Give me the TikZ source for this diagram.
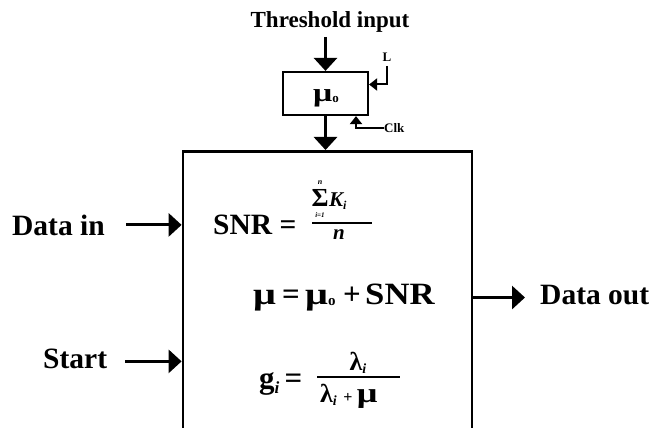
\documentclass[tikz,border=0pt]{standalone}
\usepackage{fontspec}
\usepackage{graphicx}
\setmainfont{Liberation Serif}
\usetikzlibrary{arrows.meta}
\newcommand{\fs}[1]{\fontsize{#1}{#1}\selectfont}
\newcommand{\wmu}{\scalebox{1.3}[1]{μ}}
\begin{document}
\begin{tikzpicture}[x=1pt,y=-1pt,
  lbl/.style={font=\fs{29.5}\bfseries, inner sep=0pt, anchor=base west},
  eq/.style={font=\fs{29.5}\bfseries, inner sep=0pt, anchor=base west},
  small/.style={font=\fs{13}\bfseries, inner sep=0pt},
  bx/.style={draw, line width=2.8pt, inner sep=0pt},
  arr/.style={line width=3pt, -{Triangle[length=13pt,width=23pt]}},
  sarr/.style={line width=2pt, -{Triangle[length=8pt,width=12pt]}},
  rule/.style={line width=1.4pt}]
\path[use as bounding box, clip] (0,0) rectangle (657,428);
\fill[white] (0,0) rectangle (657,428);
% main block (open at the bottom, runs off the page)
\node[bx, minimum width=289pt, minimum height=320pt, anchor=north] (proc) at (327.5,150) {};
% register
\node[bx, line width=2.2pt, minimum width=85pt, minimum height=43pt] (reg) at (325.5,93.5) {};
\node[font=\fs{26}\bfseries, inner sep=0pt, anchor=base] (mu0) at (326,102) {\wmu\raisebox{-1pt}{\fs{13}o}};
% threshold input
\node[font=\fs{23}\bfseries, inner sep=0pt, anchor=base] (thr) at (330,28) {Threshold input};
\coordinate (thrS) at (325.5,37);
\draw[arr] (thrS) -- (reg.north);
\draw[arr] (reg.south) -- (reg.south |- proc.north);
% L
\node[small, anchor=base] (Llbl) at (387,62) {L};
\coordinate (Lin) at (387,66);
\draw[sarr] (Lin) |- ([yshift=9pt]reg.east);
% Clk
\node[small, anchor=west] (clk) at (384,128) {Clk};
\draw[sarr] (clk.west) -| ([xshift=30.5pt]reg.south);
% inputs / outputs
\node[lbl] (din) at (12,235) {Data in};
\draw[arr] ([xshift=21pt]din.east) -- (din.east -| proc.west);
\node[lbl] (st) at (43,368) {Start};
\draw[arr] ([xshift=18pt,yshift=-3pt]st.east) -- ([yshift=-3pt]st.east -| proc.west);
\node[lbl] (dout) at (540,304) {Data out};
\draw[arr] ([yshift=-3pt]dout.west -| proc.east) -- ([xshift=-15pt,yshift=-3pt]dout.west);
% SNR equation
\node[eq] (snr) at (213,234) {SNR =};
\draw[rule] (312,223) -- (372,223);
\node[font=\fs{26}\bfseries, inner sep=0pt, anchor=base] (sig) at (320,207) {Σ};
\node[font=\fs{8}\bfseries\itshape, inner sep=0pt, anchor=base] (sigtop) at (320,184) {n};
\node[font=\fs{7}\bfseries\itshape, inner sep=0pt, anchor=base] (sigbot) at (320,218) {i=1};
\node[font=\fs{21}\bfseries\itshape, inner sep=0pt, anchor=base west] (Ki) at (329,206) {K\raisebox{-3pt}{\fs{12}i}};
\node[font=\fs{21}\bfseries\itshape, inner sep=0pt, anchor=base] (nden) at (339,240) {n};
% mu equation
\node[eq, font=\fs{31}\bfseries] (muA) at (253,304) {\wmu};
\node[eq, font=\fs{31}\bfseries] (muEq) at (282,304) {=};
\node[eq, font=\fs{31}\bfseries] (muB) at (305,304) {\wmu\raisebox{-1pt}{\fs{15}o}};
\node[eq, font=\fs{31}\bfseries] (muPlus) at (343,304) {+};
\node[eq, font=\fs{31}\bfseries] (muSNR) at (365,304) {\scalebox{1.12}[1]{SNR}};
% gain equation
\node[eq, font=\fs{31}\bfseries] (geq) at (259,388) {g\raisebox{-5pt}{\fs{17}\itshape i}\,=};
\draw[rule] (317,377) -- (400,377);
\node[font=\fs{26}\bfseries, inner sep=0pt, anchor=base] (lnum) at (358,370) {λ\raisebox{-3pt}{\fs{14}\itshape i}};
\node[font=\fs{26}\bfseries, inner sep=0pt, anchor=base west] (lden) at (320,402) {λ\raisebox{-3pt}{\fs{14}\itshape i} {\fs{16}+}\,{\fs{28}\wmu}};
\end{tikzpicture}
\end{document}
